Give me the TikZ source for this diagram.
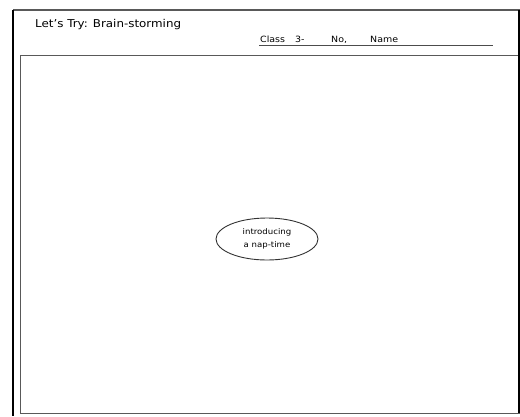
\documentclass[tikz,border=0pt]{standalone}
\usepackage{fontspec}
\setmainfont[FakeStretch=1.1]{DejaVu Sans}
\usetikzlibrary{shapes.geometric}
\tikzset{
  frameblack/.style={line width=2pt, black},
  framegray/.style={line width=1.5pt, black!65},
  idea/.style={ellipse, draw=black!80, line width=0.9pt, minimum width=102pt, minimum height=42pt, inner sep=0pt, align=center, font=\fontsize{7.8}{12.5}\selectfont},
  lbl/.style={inner sep=0pt, anchor=base west},
  hdr/.style={lbl, font=\fontsize{8.6}{10}\selectfont}
}
\begin{document}
\begin{tikzpicture}[x=1pt,y=-1pt]
\useasboundingbox (0,0) rectangle (520,416);
% outer frame
\coordinate (otl) at (13,10);
\coordinate (otr) at (520,10);
\coordinate (obl) at (13,416);
\coordinate (ortop) at (518.5,10);
\coordinate (orbot) at (518.5,413.5);
\draw[framegray] (otl) -- (otr);
\draw[frameblack] (13,9.5) -- (obl);
\draw[frameblack] (ortop) -- (orbot);
% inner frame
\coordinate (itl) at (20.3,55.5);
\coordinate (ibl) at (20.3,413.5);
\coordinate (ibr) at (520,413.5);
\coordinate (itr) at (518,55.5);
\draw[framegray] (itr) -- (itl) -- (ibl) -- (ibr);
% header
\node[lbl, font=\fontsize{10.8}{12}\selectfont] (title) at (35,27) {Let's Try: Brain-storming};
\node[hdr] (cls) at (260,42.5) {Class};
\node[hdr] (three) at (295,42.5) {3-};
\node[hdr] (no) at (331,42.5) {No,};
\node[hdr] (name) at (370,42.5) {Name};
\coordinate (ul1) at (259,45.5);
\coordinate (ul2) at (493,45.5);
\draw[black!70, line width=1pt] (ul1) -- (ul2);
% central idea
\node[idea] (center) at (267,239) {introducing\\a nap-time};
\end{tikzpicture}
\end{document}
